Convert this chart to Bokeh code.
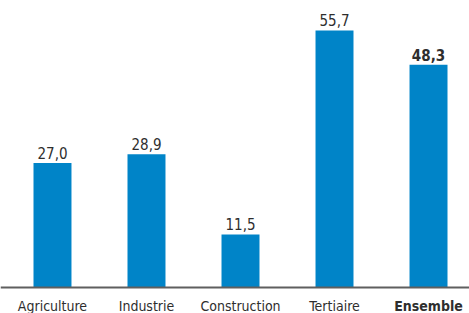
from bokeh.plotting import figure
from bokeh.models import ColumnDataSource, Range1d, Span
from bokeh.core.properties import value
from bokeh.embed import file_html
from bokeh.resources import INLINE

categories = ["Agriculture", "Industrie", "Construction", "Tertiaire", "Ensemble"]
values = [27.0, 28.9, 11.5, 55.7, 48.3]
value_labels = ["27,0", "28,9", "11,5", "55,7", "48,3"]
styles = ["normal", "normal", "normal", "normal", "bold"]

xs = list(range(len(categories)))
zeros = [0] * len(categories)
src = ColumnDataSource(dict(x=xs, top=values, zero=zeros, lab=value_labels, cat=categories, style=styles))

FONT = "'DejaVu Sans Condensed', Roboto"
TXT = "#2e2e2e"

p = figure(width=469, height=313, output_backend="svg", toolbar_location=None,
           x_range=Range1d(-0.553, 4.436), y_range=Range1d(-5.635, 62.2),
           min_border_left=0, min_border_right=0, min_border_top=0, min_border_bottom=0)
p.outline_line_color = None
p.grid.visible = False
p.xaxis.visible = False
p.yaxis.visible = False
p.background_fill_color = "white"
p.border_fill_color = "white"

p.vbar(x="x", top="top", bottom=0, width=0.404, source=src, fill_color="#0084C8", line_color=None)

p.add_layout(Span(location=0, dimension="width", line_color="#5f5f5f", line_width=2))

p.text(x="x", y="top", text="lab", source=src, text_align="center", text_baseline="alphabetic",
       y_offset=-10, text_font=value(FONT), text_font_size="15px", text_color=TXT,
       text_font_style="style")

p.text(x="x", y="zero", text="cat", source=src, text_align="center", text_baseline="alphabetic",
       y_offset=19, text_font=value(FONT), text_font_size="14px", text_color=TXT,
       text_font_style="style")

open("out.html", "w").write(file_html(p, INLINE))
